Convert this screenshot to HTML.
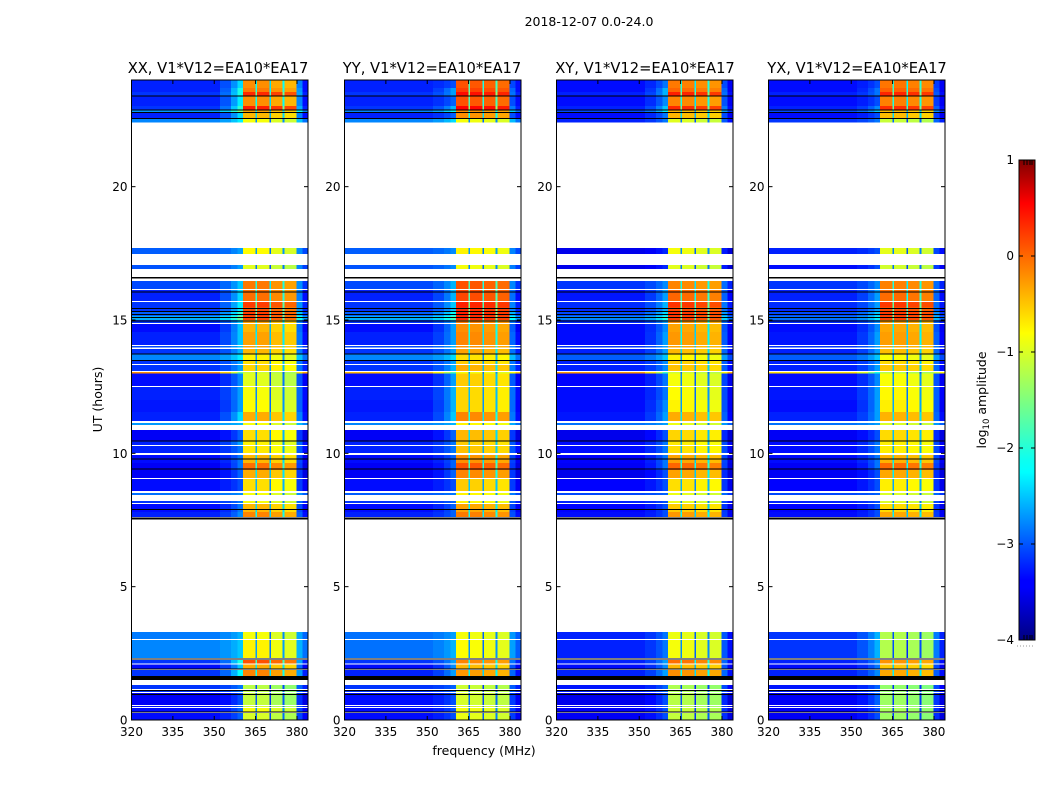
<!DOCTYPE html>
<html>
<head>
<meta charset="utf-8">
<title>2018-12-07 dynamic spectra</title>
<style>
html,body{margin:0;padding:0;background:#fff;}
svg{display:block;}
text{font-family:"DejaVu Sans","Liberation Sans",sans-serif;fill:#000;}
</style>
</head>
<body>
<svg id="figure" xmlns="http://www.w3.org/2000/svg" width="1050" height="800" viewBox="0 0 1050 800">
  <defs>
    <linearGradient id="jetGrad" x1="0" y1="1" x2="0" y2="0">
      <stop offset="0" stop-color="#000080"/><stop offset="0.11" stop-color="#0000ff"/><stop offset="0.125" stop-color="#0000ff"/>
      <stop offset="0.35" stop-color="#00ffff"/><stop offset="0.375" stop-color="#0dfff0"/><stop offset="0.64" stop-color="#ffff00"/>
      <stop offset="0.91" stop-color="#ff0000"/><stop offset="1" stop-color="#800000"/>
    </linearGradient>
  </defs>
  <rect x="0" y="0" width="1050" height="800" fill="#fff"/>
  <text x="589" y="26" font-size="12.5" text-anchor="middle">2018-12-07 0.0-24.0</text>
  <text x="218" y="73" font-size="14.7" text-anchor="middle">XX, V1*V12=EA10*EA17</text>
  <text x="432" y="73" font-size="14.7" text-anchor="middle">YY, V1*V12=EA10*EA17</text>
  <text x="645" y="73" font-size="14.7" text-anchor="middle">XY, V1*V12=EA10*EA17</text>
  <text x="857" y="73" font-size="14.7" text-anchor="middle">YX, V1*V12=EA10*EA17</text>
  <text x="484" y="755" font-size="12.5" text-anchor="middle">frequency (MHz)</text>
  <text x="0" y="0" font-size="12.5" text-anchor="middle" transform="translate(102,399.5) rotate(-90)">UT (hours)</text>
  <text x="0" y="0" font-size="12.5" text-anchor="middle" transform="translate(986,400) rotate(-90)">log<tspan font-size="8.5" dy="3">10</tspan><tspan dy="-3"> amplitude</tspan></text>
  <g id="panels"></g>
  <g id="colorbar"></g>
</svg>
<script>
// ---- Axis data ----
const freqTicks = [320, 335, 350, 365, 380];
const utTicks = [0, 5, 10, 15, 20];
const colorTicks = [-4, -3, -2, -1, 0, 1];
const colorTickLabels = ['\u22124', '\u22123', '\u22122', '\u22121', '0', '1'];

// Frequency channel groups (MHz) that share a level within a time row
const freqEdges = [320, 352, 356, 358.5, 360.5, 364.9, 365.5, 370, 370.6, 374.8, 375.4, 379.8, 382, 384];

// Time rows (UT hours); the white areas are the spans with no row
const rowTop = [24,23.7,23.55,23.4,23.025,22.875,22.76,22.575,17.7,17.06,16.46,16.125,15.675,15.49,15.34,15.15,15,14.85,14.55,14.03,13.91,13.725,13.46,13.31,13.05,12.99,12.49,12,11.55,11.14,10.875,10.46,10.275,9.94,9.64,9.375,9.04,8.51,8.21,8.1,7.8,3.3,3,2.25,2.08,1.875,1.31,1.11,1.01,0.525,0.45,0.26];
const rowBottom = [23.7,23.55,23.4,23.025,22.875,22.76,22.575,22.41,17.475,16.91,16.16,15.71,15.49,15.34,15.15,15,14.89,14.55,14.06,13.97,13.725,13.5,13.35,13.09,12.99,12.525,12,11.55,11.21,11.06,10.46,10.31,10.01,9.64,9.375,9.075,8.59,8.44,8.14,7.8,7.61,3.04,2.325,2.12,1.91,1.65,1.16,1.05,0.56,0.49,0.3,0];

// Thin flagged (black) time rows, UT hours
const blackLines = [23.4,22.875,22.78,22.56,16.59,16.57,16.05,15.44,15.32,15.2,15.09,14.97,13.73,13.48,10.46,9.79,9.41,7.9,7.58,7.54,2.29,1.91,1.1,0.96,0.3];
const blackBandTop = [1.65];
const blackBandBottom = [1.5];

// Calibration applied to the off-band background levels below
const backgroundOffset = -0.12;

// Log10 amplitude per time row: off-band background, band-edge ramp, main band
const bgXX = [-3.1,-3.1,-3.0,-3.1,-3.0,-2.5,-3.1,-2.6,-2.8,-2.85,-2.9,-3.1,-3.0,-3.0,-2.8,-2.4,-3.0,-3.2,-3.1,-2.9,-3.0,-2.6,-3.0,-3.0,-0.2,-3.2,-3.1,-3.15,-3.1,-2.5,-3.3,-3.1,-3.1,-3.2,-3.3,-3.3,-3.2,-2.7,-3.0,-3.2,-3.1,-2.65,-2.6,-3.0,-3.2,-3.0,-3.0,-3.0,-3.3,-3.2,-3.2,-3.2];
const rampXX = [-2.3,-2.0,-2.0,-2.2,-1.9,-1.5,-2.3,-2.2,-2.6,-2.6,-2.4,-2.3,-2.2,-2.2,-1.9,-1.6,-2.4,-2.4,-2.4,-2.4,-2.5,-2.2,-2.6,-2.6,-1.6,-2.7,-2.6,-2.6,-2.3,-2.5,-2.9,-2.6,-2.8,-2.8,-2.8,-2.9,-3.0,-2.7,-2.8,-2.8,-2.7,-2.5,-2.4,-2.0,-2.4,-2.1,-2.8,-2.8,-3.0,-2.9,-2.9,-2.9];
const bandXX = [-0.4,-0.3,0.1,-0.4,0.15,-0.5,-0.6,-1.0,-0.95,-1.1,-0.3,-0.25,0.0,-0.1,0.0,-0.05,-0.5,-0.6,-0.5,-0.5,-0.6,-0.9,-0.8,-0.75,-1.2,-1.1,-1.0,-0.95,-0.55,-1.0,-0.8,-0.9,-0.85,-0.6,-0.25,-0.55,-0.8,-1.0,-1.0,-0.6,-0.35,-1.0,-0.9,-0.1,-0.55,-0.35,-1.3,-1.3,-1.25,-1.2,-1.0,-1.15];
const profileXX = [0.08, 0.08, -0.05, -0.12];

const bgYY = [-3.1,-3.1,-3.0,-3.1,-3.0,-2.6,-3.1,-2.6,-2.8,-2.85,-2.9,-3.1,-3.0,-3.0,-2.8,-2.4,-3.0,-3.2,-3.1,-2.9,-3.0,-2.6,-3.0,-3.0,-0.4,-3.2,-3.1,-3.15,-3.1,-2.6,-3.3,-3.1,-3.1,-3.2,-3.3,-3.3,-3.2,-2.8,-3.0,-3.2,-3.1,-2.7,-2.7,-3.0,-3.2,-3.1,-3.0,-3.0,-3.2,-3.2,-3.2,-3.2];
const rampYY = [-3.0,-2.6,-2.6,-2.9,-2.5,-2.1,-2.9,-2.3,-2.7,-2.7,-2.5,-2.5,-2.4,-2.4,-2.1,-1.8,-2.6,-2.6,-2.6,-2.5,-2.6,-2.3,-2.6,-2.5,-1.7,-2.6,-2.5,-2.5,-2.4,-2.5,-2.9,-2.8,-2.8,-2.9,-2.9,-2.9,-3.0,-2.8,-2.9,-2.9,-2.9,-2.6,-2.5,-2.6,-2.7,-2.6,-2.9,-2.9,-3.0,-3.0,-3.0,-3.0];
const bandYY = [-0.1,0.0,0.25,-0.1,0.3,-0.4,-0.4,-1.0,-0.9,-1.0,-0.1,-0.05,0.15,0.1,0.15,0.1,-0.3,-0.4,-0.35,-0.4,-0.5,-0.8,-0.7,-0.55,-1.0,-0.7,-0.75,-0.75,-0.35,-0.9,-0.6,-0.7,-0.65,-0.4,-0.1,-0.35,-0.7,-0.9,-0.9,-0.5,-0.3,-1.0,-0.95,-0.35,-0.6,-0.45,-1.2,-1.2,-1.15,-1.1,-1.0,-1.05];
const profileYY = [0.08, 0.05, 0.0, -0.05];

const bgXY = [-3.2,-3.2,-3.1,-3.2,-3.1,-2.9,-3.2,-3.1,-3.35,-3.35,-3.0,-3.15,-3.05,-3.05,-2.9,-2.6,-3.05,-3.2,-3.2,-3.0,-3.1,-2.8,-3.1,-3.1,-0.25,-3.25,-3.2,-3.2,-3.15,-2.7,-3.35,-3.2,-3.2,-3.25,-3.3,-3.35,-3.25,-2.9,-3.1,-3.25,-3.2,-3.1,-3.1,-3.1,-3.2,-3.1,-3.15,-3.1,-3.35,-3.3,-3.3,-3.3];
const rampXY = [-2.8,-2.5,-2.5,-2.7,-2.4,-2.2,-2.8,-2.8,-3.2,-3.2,-2.7,-2.6,-2.5,-2.5,-2.3,-2.0,-2.6,-2.7,-2.6,-2.6,-2.6,-2.4,-2.7,-2.7,-1.8,-2.8,-2.8,-2.7,-2.6,-2.6,-3.0,-2.8,-2.8,-2.8,-2.8,-3.0,-3.0,-2.9,-3.0,-3.0,-3.0,-2.8,-2.8,-2.6,-2.7,-2.6,-2.9,-2.9,-3.0,-3.0,-3.0,-3.0];
const bandXY = [-0.3,-0.2,0.15,-0.35,0.1,-0.6,-0.6,-1.1,-1.0,-1.1,-0.35,-0.2,0.05,-0.05,0.05,0.0,-0.4,-0.5,-0.45,-0.5,-0.6,-0.9,-0.7,-0.65,-1.2,-1.0,-0.95,-0.9,-0.55,-1.05,-0.75,-0.85,-0.8,-0.5,-0.2,-0.5,-0.8,-1.05,-1.05,-0.7,-0.45,-1.05,-1.0,-0.25,-0.6,-0.4,-1.35,-1.35,-1.3,-1.3,-1.2,-1.25];
const profileXY = [0.08, 0.05, -0.02, -0.05];

const bgYX = [-3.2,-3.2,-3.1,-3.2,-3.1,-2.9,-3.2,-3.0,-3.1,-3.2,-3.0,-3.1,-3.05,-3.05,-2.9,-2.7,-3.05,-3.2,-3.15,-3.0,-3.1,-2.8,-3.1,-3.1,-0.6,-3.2,-3.15,-3.2,-3.1,-2.7,-3.3,-3.2,-3.2,-3.2,-3.3,-3.3,-3.25,-2.9,-3.1,-3.25,-3.2,-3.0,-3.0,-3.1,-3.2,-3.1,-3.15,-3.1,-3.3,-3.3,-3.3,-3.3];
const rampYX = [-3.0,-2.8,-2.8,-3.0,-2.7,-2.4,-3.0,-2.8,-3.0,-3.0,-2.7,-2.6,-2.6,-2.6,-2.4,-2.2,-2.7,-2.7,-2.6,-2.6,-2.6,-2.4,-2.7,-2.6,-2.0,-2.7,-2.6,-2.6,-2.6,-2.6,-3.0,-2.8,-2.8,-2.8,-2.8,-3.0,-3.0,-2.9,-3.0,-3.0,-3.0,-2.5,-2.5,-2.7,-2.8,-2.7,-2.9,-2.9,-2.9,-3.0,-3.0,-3.0];
const bandYX = [-0.25,-0.15,0.15,-0.3,0.1,-0.6,-0.6,-1.2,-1.05,-1.15,-0.3,-0.2,0.05,-0.05,0.05,0.0,-0.45,-0.5,-0.45,-0.5,-0.6,-0.95,-0.75,-0.65,-1.3,-0.95,-0.9,-0.85,-0.55,-1.1,-0.75,-0.85,-0.85,-0.55,-0.2,-0.5,-0.85,-1.1,-1.1,-0.75,-0.5,-1.3,-1.3,-0.4,-0.65,-0.5,-1.45,-1.45,-1.4,-1.4,-1.35,-1.4];
const profileYX = [0.05, 0.05, 0.0, -0.05];

const panelSeries = [
  {key: 'xx', bg: bgXX, ramp: rampXX, band: bandXX, profile: profileXX},
  {key: 'yy', bg: bgYY, ramp: rampYY, band: bandYY, profile: profileYY},
  {key: 'xy', bg: bgXY, ramp: rampXY, band: bandXY, profile: profileXY},
  {key: 'yx', bg: bgYX, ramp: rampYX, band: bandYX, profile: profileYX}
];

// Minor tick stubs at both ends of the colour bar
const colorbarStubs = [1024, 1027, 1030, 1032];

// ---- Layout / scales ----
const NS = 'http://www.w3.org/2000/svg';
const panelLeft = [131.5, 344.5, 556.5, 768.5];
const panelWidth = 176.5;
const plotTop = 80, plotBottom = 720;
const freqMin = 320, freqMax = 384, utMin = 0, utMax = 24;
function xScale(p, f) { return panelLeft[p] + (f - freqMin) / (freqMax - freqMin) * panelWidth; }
function yScale(ut) { return plotBottom - (ut - utMin) / (utMax - utMin) * (plotBottom - plotTop); }

const cbLeft = 1019, cbRight = 1035, cbTop = 160, cbBottom = 640, cMin = -4, cMax = 1;
function cScale(v) { return cbBottom - (v - cMin) / (cMax - cMin) * (cbBottom - cbTop); }

function jet(v) {
  const t = Math.max(0, Math.min(1, (v - cMin) / (cMax - cMin)));
  const seg = (a) => Math.round(255 * Math.max(0, Math.min(1, a)));
  return 'rgb(' + seg(1.5 - Math.abs(4 * t - 3)) + ',' + seg(1.5 - Math.abs(4 * t - 2)) + ',' + seg(1.5 - Math.abs(4 * t - 1)) + ')';
}

function levelForGroup(s, r, g) {
  const bg = s.bg[r] + backgroundOffset, ramp = s.ramp[r], band = s.band[r];
  switch (g) {
    case 0: return bg;
    case 1: return bg + (ramp - bg) * 0.25;
    case 2: return bg + (ramp - bg) * 0.6;
    case 3: return ramp;
    case 4: return band + s.profile[0];
    case 5: return band - 1.7;
    case 6: return band + s.profile[1];
    case 7: return band - 1.9;
    case 8: return band + s.profile[2];
    case 9: return band - 1.7;
    case 10: return band + s.profile[3];
    case 11: return bg + (ramp - bg) * 0.4 + 0.1;
    default: return bg - 0.1;
  }
}

const panelsRoot = document.getElementById('panels');

function line(parent, x1, y1, x2, y2, stroke, width, name) {
  const el = document.createElementNS(NS, 'line');
  el.setAttribute('x1', x1);
  el.setAttribute('y1', y1);
  el.setAttribute('x2', x2);
  el.setAttribute('y2', y2);
  el.setAttribute('stroke', stroke);
  el.setAttribute('stroke-width', width);
  
  
  parent.appendChild(el);
  return el;
}
function label(parent, x, y, str, anchor, name) {
  const el = document.createElementNS(NS, 'text');
  el.setAttribute('x', x);
  el.setAttribute('y', y);
  el.setAttribute('font-size', '12');
  el.setAttribute('text-anchor', anchor);
  
  
  el.textContent = str;
  parent.appendChild(el);
}

panelSeries.forEach(function (s, p) {
  const g = document.createElementNS(NS, 'g');
  
  
  panelsRoot.appendChild(g);

  const heat = document.createElementNS(NS, 'g');
  heat.setAttribute('shape-rendering', 'crispEdges');
  
  
  g.appendChild(heat);

  rowTop.forEach(function (top, r) {
    for (let c = 0; c < freqEdges.length - 1; c++) {
      const cell = document.createElementNS(NS, 'rect');
      const x0 = xScale(p, freqEdges[c]), x1 = xScale(p, freqEdges[c + 1]);
      const y0 = yScale(top), y1 = yScale(rowBottom[r]);
      cell.setAttribute('x', x0.toFixed(2));
      cell.setAttribute('y', y0.toFixed(2));
      cell.setAttribute('width', (x1 - x0).toFixed(2));
      cell.setAttribute('height', (y1 - y0).toFixed(2));
      cell.setAttribute('fill', jet(levelForGroup(s, r, c)));
      
      
      heat.appendChild(cell);
    }
  });

  blackLines.forEach(function (ut) {
    const flag = line(g, xScale(p, freqMin), yScale(ut), xScale(p, freqMax), yScale(ut), '#000', 1, 'flagged-row');
    flag.setAttribute('shape-rendering', 'crispEdges');
  });
  blackBandTop.forEach(function (ut, i) {
    const band = document.createElementNS(NS, 'rect');
    band.setAttribute('x', xScale(p, freqMin));
    band.setAttribute('y', yScale(ut));
    band.setAttribute('width', panelWidth);
    band.setAttribute('height', yScale(blackBandBottom[i]) - yScale(ut));
    band.setAttribute('fill', '#000');
    
    
    g.appendChild(band);
  });

  const frame = document.createElementNS(NS, 'rect');
  frame.setAttribute('x', panelLeft[p]);
  frame.setAttribute('y', plotTop);
  frame.setAttribute('width', panelWidth);
  frame.setAttribute('height', plotBottom - plotTop);
  frame.setAttribute('fill', 'none');
  frame.setAttribute('stroke', '#000');
  frame.setAttribute('stroke-width', '1');
  
  
  g.appendChild(frame);

  freqTicks.forEach(function (f) {
    const x = xScale(p, f);
    line(g, x, plotBottom, x, plotBottom - 4, '#000', 1, 'x-tick');
    line(g, x, plotTop, x, plotTop + 4, '#000', 1, 'x-tick');
    label(g, x, 736, String(f), 'middle', 'x-tick-label');
  });
  utTicks.forEach(function (u) {
    const y = yScale(u);
    line(g, panelLeft[p], y, panelLeft[p] + 4, y, '#000', 1, 'y-tick');
    line(g, panelLeft[p] + panelWidth, y, panelLeft[p] + panelWidth - 4, y, '#000', 1, 'y-tick');
    label(g, panelLeft[p] - 4, y + 4.5, String(u), 'end', 'y-tick-label');
  });
});

// ---- Colour bar ----
const cb = document.getElementById('colorbar');
const cbFill = document.createElementNS(NS, 'rect');
cbFill.setAttribute('x', cbLeft);
cbFill.setAttribute('y', cbTop);
cbFill.setAttribute('width', cbRight - cbLeft);
cbFill.setAttribute('height', cbBottom - cbTop);
cbFill.setAttribute('fill', 'url(#jetGrad)');
cbFill.setAttribute('stroke', '#000');
cbFill.setAttribute('stroke-width', '1');


cb.appendChild(cbFill);
colorTicks.forEach(function (v, i) {
  const y = cScale(v);
  line(cb, cbLeft, y, cbLeft + 4, y, '#000', 1, 'colorbar-tick');
  line(cb, cbRight, y, cbRight - 4, y, '#000', 1, 'colorbar-tick');
  label(cb, cbLeft - 5, y + 4, colorTickLabels[i], 'end', 'colorbar-tick-label');
});
colorbarStubs.forEach(function (x) {
  line(cb, x, cbTop, x, cbTop + 5, '#000', 1, 'colorbar-minor-tick');
  line(cb, x, cbBottom, x, cbBottom - 5, '#000', 1, 'colorbar-minor-tick');
});
const dots = line(cb, 1017, 646, 1035, 646, '#999', 1, 'colorbar-dotted-rule');
dots.setAttribute('stroke-dasharray', '1 2');
</script>
</body>
</html>
